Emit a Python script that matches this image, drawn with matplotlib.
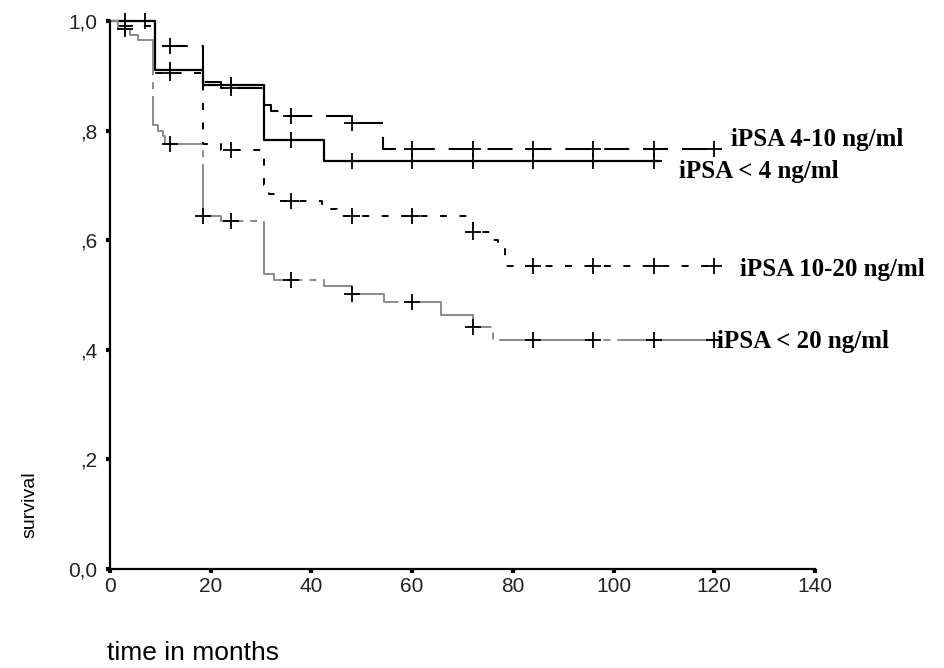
import matplotlib
matplotlib.use("Agg")
import matplotlib.pyplot as plt
import numpy as np

plt.rcParams['lines.scale_dashes'] = False

# ---- data ----
lt4_t = [0, 9, 18.5, 30.5, 42.5, 109]
lt4_s = [1.0, 0.911, 0.884, 0.783, 0.745, 0.745]
lt4_cens = [3, 12, 24, 36, 48, 60, 72, 84, 96, 108]

p410_t = [0, 9, 18.5, 22, 30.5, 32, 34, 48, 54.3, 120]
p410_s = [1.0, 0.954, 0.889, 0.877, 0.847, 0.835, 0.826, 0.813, 0.766, 0.766]
p410_cens = [7, 12, 24, 36, 48, 60, 72, 84, 96, 108, 120]

p1020_t = [0, 2.5, 9, 18.5, 22, 30.5, 31.5, 33, 42, 45, 72, 76, 77, 78.5, 120]
p1020_s = [1.0, 0.99, 0.905, 0.775, 0.765, 0.70, 0.685, 0.672, 0.657, 0.645,
           0.615, 0.60, 0.585, 0.553, 0.553]
p1020_cens = [3, 12, 24, 36, 48, 60, 72, 84, 96, 108, 120]

gt20_t = [0, 1.5, 4, 5.5, 8.5, 9.5, 10.5, 11, 18.5, 22, 30.5, 32.5, 42.5, 48,
          54.4, 65.8, 72, 76, 120]
gt20_s = [1.0, 0.985, 0.975, 0.965, 0.81, 0.80, 0.79, 0.775, 0.644, 0.635,
          0.538, 0.527, 0.516, 0.502, 0.487, 0.464, 0.442, 0.418, 0.418]
gt20_cens = [3, 12, 18.5, 24, 36, 48, 60, 72, 84, 96, 108, 120]

x_ticks = [0, 20, 40, 60, 80, 100, 120, 140]
y_ticks = [0.0, 0.2, 0.4, 0.6, 0.8, 1.0]
y_ticklabels = ['0,0', ',2', ',4', ',6', ',8', '1,0']

labels = ['iPSA 4-10 ng/ml', 'iPSA < 4 ng/ml', 'iPSA 10-20 ng/ml', 'iPSA < 20 ng/ml']
label_pos = [(123.3, 0.784), (112.9, 0.725), (125.2, 0.547), (120.6, 0.416)]

fig = plt.figure(figsize=(9.44, 6.68), dpi=100)
ax = fig.add_axes([110/944, 99/668, 705/944, 548/668])


def censor_vals(t, s, c):
    t = np.asarray(t); s = np.asarray(s)
    idx = np.searchsorted(t, c, side='right') - 1
    return s[idx]


curves = [
    (lt4_t, lt4_s, lt4_cens, dict(color='black', lw=1.6, ls='-')),
    (p410_t, p410_s, p410_cens, dict(color='black', lw=1.5, ls=(0, (18, 10)))),
    (p1020_t, p1020_s, p1020_cens, dict(color='black', lw=1.4, ls=(0, (5, 9)))),
    (gt20_t, gt20_s, gt20_cens, dict(color='#8a8a8a', lw=1.4, ls=(0, (70, 5, 5, 5)))),
]

for t, s, c, st in curves:
    ax.step(t, s, where='post', clip_on=False, **st)
    ax.plot(c, censor_vals(t, s, c), ls='none', marker='+', ms=11, mew=1.3,
            color='black', clip_on=False)

for txt, (x, y) in zip(labels, label_pos):
    ax.text(x, y, txt, fontsize=18, fontweight='bold', family='Liberation Serif',
            ha='left', va='center', clip_on=False)

ax.set_xlim(0, 140)
ax.set_ylim(0, 1.0)
ax.set_xticks(x_ticks)
ax.set_xticklabels([str(v) for v in x_ticks], family='Liberation Sans', fontsize=15,
                   color='#222222')
ax.set_yticks(y_ticks)
ax.set_yticklabels(y_ticklabels, family='Liberation Sans', fontsize=15, color='#222222')
ax.tick_params(axis='both', direction='out', length=3, width=3, color='black')
ax.tick_params(axis='x', pad=3)
ax.tick_params(axis='y', pad=6)
for sp in ['top', 'right']:
    ax.spines[sp].set_visible(False)
for sp in ['left', 'bottom']:
    ax.spines[sp].set_linewidth(1.6)
    ax.spines[sp].set_color('black')

fig.text(30/944, 1 - 505/668, 'survival', rotation=90, ha='center', va='center',
         family='Liberation Sans', fontsize=14)
fig.text(107/944, 1 - 653/668, 'time in months', ha='left', va='center',
         family='Liberation Sans', fontsize=19)

fig.savefig('out.png', dpi=100, facecolor='white')
